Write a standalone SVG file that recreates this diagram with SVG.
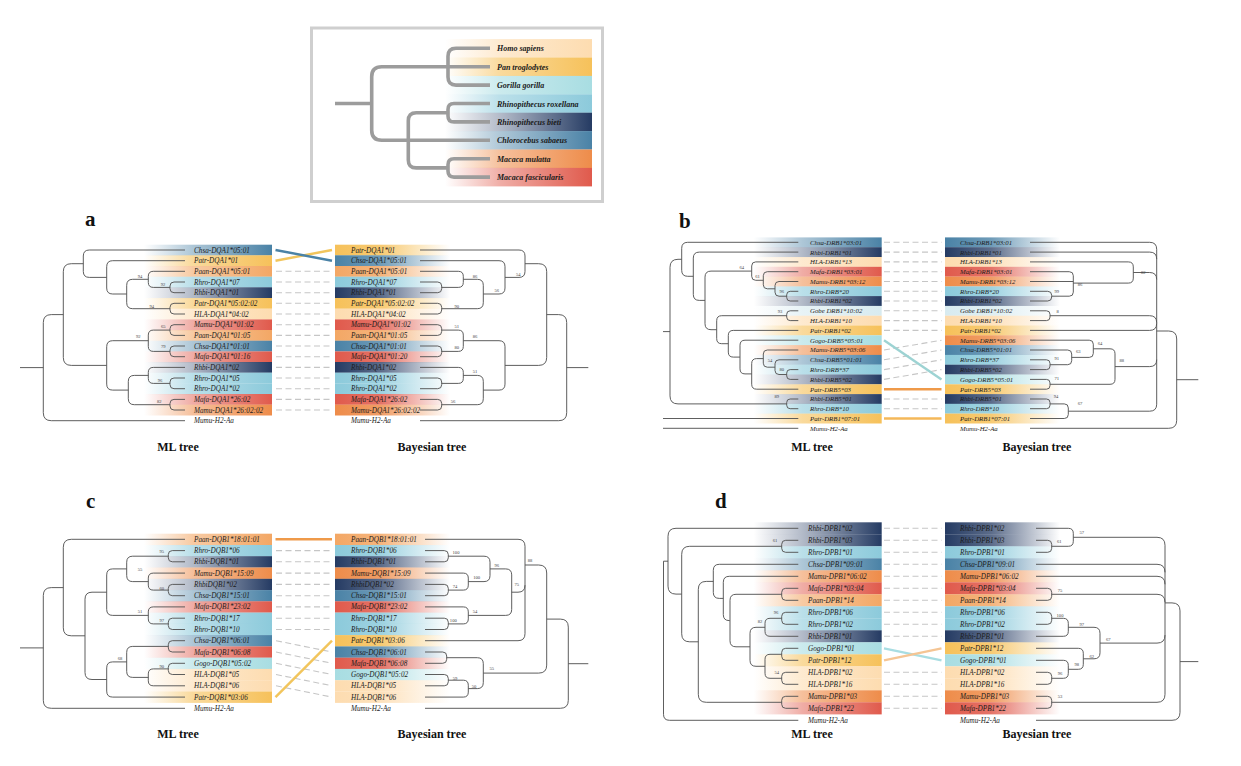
<svg xmlns="http://www.w3.org/2000/svg" width="1241" height="766" viewBox="0 0 1241 766">
<style>
.tr{fill:none;stroke:#555;stroke-width:.95}
.lt{fill:none;stroke:#9c9c9c;stroke-width:3.6}
.lb{font-family:"Liberation Serif",serif;font-style:italic;font-size:7.2px;fill:#1c1c1c}
.lb6{font-family:"Liberation Serif",serif;font-style:italic;font-size:6.8px;fill:#1c1c1c}
.bs{font-family:"Liberation Serif",serif;font-size:4.6px;fill:#444;text-anchor:middle}
.ttl{font-family:"Liberation Serif",serif;font-weight:bold;font-size:12px;fill:#111;text-anchor:middle}
.pl{font-family:"Liberation Serif",serif;font-weight:bold;font-size:21px;fill:#111}
.lg{font-family:"Liberation Serif",serif;font-style:italic;font-weight:bold;font-size:8px;fill:#1a1a1a}
.ds{fill:none;stroke:#c6c6c6;stroke-width:1.1;stroke-dasharray:6 3.5}
.sl{fill:none;stroke-width:2.4}
</style>
<defs>
<linearGradient id="L-hs"><stop offset="0" stop-color="#fddcb0" stop-opacity="0"/><stop offset=".38" stop-color="#fddcb0" stop-opacity=".6"/><stop offset="1" stop-color="#fddcb0"/></linearGradient>
<linearGradient id="L-pt"><stop offset="0" stop-color="#f6c15a" stop-opacity="0"/><stop offset=".38" stop-color="#f6c15a" stop-opacity=".6"/><stop offset="1" stop-color="#f6c15a"/></linearGradient>
<linearGradient id="L-gg"><stop offset="0" stop-color="#a8dde2" stop-opacity="0"/><stop offset=".38" stop-color="#a8dde2" stop-opacity=".6"/><stop offset="1" stop-color="#a8dde2"/></linearGradient>
<linearGradient id="L-gb"><stop offset="0" stop-color="#d8ebf0" stop-opacity="0"/><stop offset=".38" stop-color="#d8ebf0" stop-opacity=".6"/><stop offset="1" stop-color="#d8ebf0"/></linearGradient>
<linearGradient id="L-rr"><stop offset="0" stop-color="#8ccadb" stop-opacity="0"/><stop offset=".38" stop-color="#8ccadb" stop-opacity=".6"/><stop offset="1" stop-color="#8ccadb"/></linearGradient>
<linearGradient id="L-rb"><stop offset="0" stop-color="#253b63" stop-opacity="0"/><stop offset=".38" stop-color="#253b63" stop-opacity=".35"/><stop offset="1" stop-color="#253b63"/></linearGradient>
<linearGradient id="L-cs"><stop offset="0" stop-color="#4a82a6" stop-opacity="0"/><stop offset=".38" stop-color="#4a82a6" stop-opacity=".45"/><stop offset="1" stop-color="#4a82a6"/></linearGradient>
<linearGradient id="L-mm"><stop offset="0" stop-color="#ee8c4a" stop-opacity="0"/><stop offset=".38" stop-color="#ee8c4a" stop-opacity=".55"/><stop offset="1" stop-color="#ee8c4a"/></linearGradient>
<linearGradient id="L-mf"><stop offset="0" stop-color="#e05a4c" stop-opacity="0"/><stop offset=".38" stop-color="#e05a4c" stop-opacity=".5"/><stop offset="1" stop-color="#e05a4c"/></linearGradient>
<linearGradient id="L-pa"><stop offset="0" stop-color="#f3a765" stop-opacity="0"/><stop offset=".38" stop-color="#f3a765" stop-opacity=".6"/><stop offset="1" stop-color="#f3a765"/></linearGradient>
<linearGradient id="R-hs"><stop offset="0" stop-color="#fddcb0"/><stop offset=".4" stop-color="#fddcb0" stop-opacity=".85"/><stop offset="1" stop-color="#fddcb0" stop-opacity="0"/></linearGradient>
<linearGradient id="R-pt"><stop offset="0" stop-color="#f6c15a"/><stop offset=".4" stop-color="#f6c15a" stop-opacity=".85"/><stop offset="1" stop-color="#f6c15a" stop-opacity="0"/></linearGradient>
<linearGradient id="R-gg"><stop offset="0" stop-color="#a8dde2"/><stop offset=".4" stop-color="#a8dde2" stop-opacity=".85"/><stop offset="1" stop-color="#a8dde2" stop-opacity="0"/></linearGradient>
<linearGradient id="R-gb"><stop offset="0" stop-color="#d8ebf0"/><stop offset=".4" stop-color="#d8ebf0" stop-opacity=".85"/><stop offset="1" stop-color="#d8ebf0" stop-opacity="0"/></linearGradient>
<linearGradient id="R-rr"><stop offset="0" stop-color="#8ccadb"/><stop offset=".4" stop-color="#8ccadb" stop-opacity=".85"/><stop offset="1" stop-color="#8ccadb" stop-opacity="0"/></linearGradient>
<linearGradient id="R-rb"><stop offset="0" stop-color="#253b63"/><stop offset=".4" stop-color="#253b63" stop-opacity=".75"/><stop offset="1" stop-color="#253b63" stop-opacity="0"/></linearGradient>
<linearGradient id="R-cs"><stop offset="0" stop-color="#4a82a6"/><stop offset=".4" stop-color="#4a82a6" stop-opacity=".8"/><stop offset="1" stop-color="#4a82a6" stop-opacity="0"/></linearGradient>
<linearGradient id="R-mm"><stop offset="0" stop-color="#ee8c4a"/><stop offset=".4" stop-color="#ee8c4a" stop-opacity=".85"/><stop offset="1" stop-color="#ee8c4a" stop-opacity="0"/></linearGradient>
<linearGradient id="R-mf"><stop offset="0" stop-color="#e05a4c"/><stop offset=".4" stop-color="#e05a4c" stop-opacity=".85"/><stop offset="1" stop-color="#e05a4c" stop-opacity="0"/></linearGradient>
<linearGradient id="R-pa"><stop offset="0" stop-color="#f3a765"/><stop offset=".4" stop-color="#f3a765" stop-opacity=".85"/><stop offset="1" stop-color="#f3a765" stop-opacity="0"/></linearGradient>
</defs>
<rect width="1241" height="766" fill="#fff"/>

<g id="legend">
<rect x="311.5" y="28" width="291" height="173.5" fill="#fff" stroke="#cfcfcf" stroke-width="3"/>
<g id="lg-homo"><rect x="445" y="39.1" width="147" height="18.5" fill="url(#L-hs)"/><text class="lg" x="497" y="51.3">Homo sapiens</text></g>
<g id="lg-pan"><rect x="445" y="57.5" width="147" height="18.5" fill="url(#L-pt)"/><text class="lg" x="497" y="69.7">Pan troglodytes</text></g>
<g id="lg-gorilla"><rect x="445" y="75.9" width="147" height="18.5" fill="url(#L-gg)"/><text class="lg" x="497" y="88.1">Gorilla gorilla</text></g>
<g id="lg-rrox"><rect x="445" y="94.3" width="147" height="18.5" fill="url(#L-rr)"/><text class="lg" x="497" y="106.5">Rhinopithecus roxellana</text></g>
<g id="lg-rbie"><rect x="445" y="112.7" width="147" height="18.5" fill="url(#L-rb)"/><text class="lg" x="497" y="124.9">Rhinopithecus bieti</text></g>
<g id="lg-chsa"><rect x="445" y="131.1" width="147" height="18.5" fill="url(#L-cs)"/><text class="lg" x="497" y="143.3">Chlorocebus sabaeus</text></g>
<g id="lg-mamu"><rect x="445" y="149.5" width="147" height="18.5" fill="url(#L-mm)"/><text class="lg" x="497" y="161.7">Macaca mulatta</text></g>
<g id="lg-mafa"><rect x="445" y="167.9" width="147" height="18.5" fill="url(#L-mf)"/><text class="lg" x="497" y="180.1">Macaca fascicularis</text></g>
<path class="lt" d="M490,48.3H456Q448,48.3 448,56.3V77.1Q448,85.1 456,85.1H490M448,66.7H490M490,103.5H454Q448,103.5 448,109.5V115.9Q448,121.9 454,121.9H490M490,158.7H454Q448,158.7 448,164.7V171.1Q448,177.1 454,177.1H490M448,112.7H416.3Q408.3,112.7 408.3,120.7V159.9Q408.3,167.9 416.3,167.9H448M408.3,140.3H490M448,66.7H381.7Q371.7,66.7 371.7,76.7V130.3Q371.7,140.3 381.7,140.3H408.3M335,103.5H371.7"/>
</g>

<g id="panel-labels">
<text class="pl" x="85" y="226">a</text>
<text class="pl" x="679" y="228">b</text>
<text class="pl" x="86" y="508">c</text>
<text class="pl" x="715" y="508">d</text>
<text class="ttl" x="178" y="451">ML tree</text>
<text class="ttl" x="432" y="451">Bayesian tree</text>
<text class="ttl" x="812" y="451">ML tree</text>
<text class="ttl" x="1037" y="451">Bayesian tree</text>
<text class="ttl" x="178" y="738">ML tree</text>
<text class="ttl" x="432" y="738">Bayesian tree</text>
<text class="ttl" x="812" y="738">ML tree</text>
<text class="ttl" x="1037" y="738">Bayesian tree</text>
</g>

<!-- Panel a rows -->
<g id="a-ml-0"><rect x="144" y="244.7" width="128" height="10.8" fill="url(#L-cs)"/><text class="lb" x="194" y="252.5">Chsa-DQA1*05:01</text></g>
<g id="a-ml-1"><rect x="144" y="255.3" width="128" height="10.8" fill="url(#L-pt)"/><text class="lb" x="194" y="263.2">Patr-DQA1*01</text></g>
<g id="a-ml-2"><rect x="144" y="266" width="128" height="10.8" fill="url(#L-pa)"/><text class="lb" x="194" y="273.8">Paan-DQA1*05:01</text></g>
<g id="a-ml-3"><rect x="144" y="276.7" width="128" height="10.8" fill="url(#L-rr)"/><text class="lb" x="194" y="284.5">Rhro-DQA1*07</text></g>
<g id="a-ml-4"><rect x="144" y="287.3" width="128" height="10.8" fill="url(#L-rb)"/><text class="lb" x="194" y="295.2">Rhbi-DQA1*01</text></g>
<g id="a-ml-5"><rect x="144" y="298" width="128" height="10.8" fill="url(#L-pt)"/><text class="lb" x="194" y="305.8">Patr-DQA1*05:02:02</text></g>
<g id="a-ml-6"><rect x="144" y="308.7" width="128" height="10.8" fill="url(#L-hs)"/><text class="lb" x="194" y="316.5">HLA-DQA1*04:02</text></g>
<g id="a-ml-7"><rect x="144" y="319.4" width="128" height="10.8" fill="url(#L-mf)"/><text class="lb" x="194" y="327.2">Mamu-DQA1*01:02</text></g>
<g id="a-ml-8"><rect x="144" y="330" width="128" height="10.8" fill="url(#L-pa)"/><text class="lb" x="194" y="337.9">Paan-DQA1*01:05</text></g>
<g id="a-ml-9"><rect x="144" y="340.7" width="128" height="10.8" fill="url(#L-cs)"/><text class="lb" x="194" y="348.5">Chsa-DQA1*01:01</text></g>
<g id="a-ml-10"><rect x="144" y="351.4" width="128" height="10.8" fill="url(#L-mf)"/><text class="lb" x="194" y="359.2">Mafa-DQA1*01:16</text></g>
<g id="a-ml-11"><rect x="144" y="362" width="128" height="10.8" fill="url(#L-rb)"/><text class="lb" x="194" y="369.9">Rhbi-DQA1*02</text></g>
<g id="a-ml-12"><rect x="144" y="372.7" width="128" height="10.8" fill="url(#L-rr)"/><text class="lb" x="194" y="380.5">Rhro-DQA1*05</text></g>
<g id="a-ml-13"><rect x="144" y="383.4" width="128" height="10.8" fill="url(#L-rr)"/><text class="lb" x="194" y="391.2">Rhro-DQA1*02</text></g>
<g id="a-ml-14"><rect x="144" y="394" width="128" height="10.8" fill="url(#L-mf)"/><text class="lb" x="194" y="401.9">Mafa-DQA1*26:02</text></g>
<g id="a-ml-15"><rect x="144" y="404.7" width="128" height="10.8" fill="url(#L-mm)"/><text class="lb" x="194" y="412.5">Mamu-DQA1*26:02:02</text></g>
<g id="a-ml-16"><text class="lb" x="194" y="423.2">Mumu-H2-Aa</text></g>

<g id="a-by-0"><rect x="335" y="244.7" width="115" height="10.8" fill="url(#R-pt)"/><text class="lb" x="351" y="252.5">Patr-DQA1*01</text></g>
<g id="a-by-1"><rect x="335" y="255.3" width="115" height="10.8" fill="url(#R-cs)"/><text class="lb" x="351" y="263.2">Chsa-DQA1*05:01</text></g>
<g id="a-by-2"><rect x="335" y="266" width="115" height="10.8" fill="url(#R-pa)"/><text class="lb" x="351" y="273.8">Paan-DQA1*05:01</text></g>
<g id="a-by-3"><rect x="335" y="276.7" width="115" height="10.8" fill="url(#R-rr)"/><text class="lb" x="351" y="284.5">Rhro-DQA1*07</text></g>
<g id="a-by-4"><rect x="335" y="287.3" width="115" height="10.8" fill="url(#R-rb)"/><text class="lb" x="351" y="295.2">Rhbi-DQA1*01</text></g>
<g id="a-by-5"><rect x="335" y="298" width="115" height="10.8" fill="url(#R-pt)"/><text class="lb" x="351" y="305.8">Patr-DQA1*05:02:02</text></g>
<g id="a-by-6"><rect x="335" y="308.7" width="115" height="10.8" fill="url(#R-hs)"/><text class="lb" x="351" y="316.5">HLA-DQA1*04:02</text></g>
<g id="a-by-7"><rect x="335" y="319.4" width="115" height="10.8" fill="url(#R-mf)"/><text class="lb" x="351" y="327.2">Mamu-DQA1*01:02</text></g>
<g id="a-by-8"><rect x="335" y="330" width="115" height="10.8" fill="url(#R-pa)"/><text class="lb" x="351" y="337.9">Paan-DQA1*01:05</text></g>
<g id="a-by-9"><rect x="335" y="340.7" width="115" height="10.8" fill="url(#R-cs)"/><text class="lb" x="351" y="348.5">Chsa-DQA1*01:01</text></g>
<g id="a-by-10"><rect x="335" y="351.4" width="115" height="10.8" fill="url(#R-mf)"/><text class="lb" x="351" y="359.2">Mafa-DQA1*01:20</text></g>
<g id="a-by-11"><rect x="335" y="362" width="115" height="10.8" fill="url(#R-rb)"/><text class="lb" x="351" y="369.9">Rhbi-DQA1*02</text></g>
<g id="a-by-12"><rect x="335" y="372.7" width="115" height="10.8" fill="url(#R-rr)"/><text class="lb" x="351" y="380.5">Rhro-DQA1*05</text></g>
<g id="a-by-13"><rect x="335" y="383.4" width="115" height="10.8" fill="url(#R-rr)"/><text class="lb" x="351" y="391.2">Rhro-DQA1*02</text></g>
<g id="a-by-14"><rect x="335" y="394" width="115" height="10.8" fill="url(#R-mf)"/><text class="lb" x="351" y="401.9">Mafa-DQA1*26:02</text></g>
<g id="a-by-15"><rect x="335" y="404.7" width="115" height="10.8" fill="url(#R-mm)"/><text class="lb" x="351" y="412.5">Mamu-DQA1*26:02:02</text></g>
<g id="a-by-16"><text class="lb" x="351" y="423.2">Mumu-H2-Aa</text></g>

<!-- Panel b rows -->
<g id="b-ml-0"><rect x="753.7" y="237.4" width="128" height="9.9" fill="url(#L-cs)"/><text class="lb6" x="810" y="244.7">Chsa-DRB1*03:01</text></g>
<g id="b-ml-1"><rect x="753.7" y="247.2" width="128" height="9.9" fill="url(#L-rb)"/><text class="lb6" x="810" y="254.5">Rhbi-DRB1*01</text></g>
<g id="b-ml-2"><rect x="753.7" y="257" width="128" height="9.9" fill="url(#L-hs)"/><text class="lb6" x="810" y="264.3">HLA-DRB1*13</text></g>
<g id="b-ml-3"><rect x="753.7" y="266.8" width="128" height="9.9" fill="url(#L-mf)"/><text class="lb6" x="810" y="274.1">Mafa-DRB1*03:01</text></g>
<g id="b-ml-4"><rect x="753.7" y="276.6" width="128" height="9.9" fill="url(#L-mm)"/><text class="lb6" x="810" y="283.9">Mamu-DRB1*03:12</text></g>
<g id="b-ml-5"><rect x="753.7" y="286.4" width="128" height="9.9" fill="url(#L-rr)"/><text class="lb6" x="810" y="293.7">Rhro-DRB*20</text></g>
<g id="b-ml-6"><rect x="753.7" y="296.1" width="128" height="9.9" fill="url(#L-rb)"/><text class="lb6" x="810" y="303.4">Rhbi-DRB1*02</text></g>
<g id="b-ml-7"><rect x="753.7" y="305.9" width="128" height="9.9" fill="url(#L-gb)"/><text class="lb6" x="810" y="313.2">Gobe DRB1*10:02</text></g>
<g id="b-ml-8"><rect x="753.7" y="315.7" width="128" height="9.9" fill="url(#L-hs)"/><text class="lb6" x="810" y="323">HLA-DRB1*10</text></g>
<g id="b-ml-9"><rect x="753.7" y="325.5" width="128" height="9.9" fill="url(#L-pt)"/><text class="lb6" x="810" y="332.8">Patr-DRB1*02</text></g>
<g id="b-ml-10"><rect x="753.7" y="335.3" width="128" height="9.9" fill="url(#L-gg)"/><text class="lb6" x="810" y="342.6">Gogo-DRB5*05:01</text></g>
<g id="b-ml-11"><rect x="753.7" y="345.1" width="128" height="9.9" fill="url(#L-mm)"/><text class="lb6" x="810" y="352.4">Mamu-DRB5*03:06</text></g>
<g id="b-ml-12"><rect x="753.7" y="354.9" width="128" height="9.9" fill="url(#L-cs)"/><text class="lb6" x="810" y="362.2">Chsa-DRB5*01:01</text></g>
<g id="b-ml-13"><rect x="753.7" y="364.7" width="128" height="9.9" fill="url(#L-rr)"/><text class="lb6" x="810" y="372">Rhro-DRB*37</text></g>
<g id="b-ml-14"><rect x="753.7" y="374.5" width="128" height="9.9" fill="url(#L-rb)"/><text class="lb6" x="810" y="381.8">Rhbi-DRB5*02</text></g>
<g id="b-ml-15"><rect x="753.7" y="384.3" width="128" height="9.9" fill="url(#L-pt)"/><text class="lb6" x="810" y="391.6">Patr-DRB5*03</text></g>
<g id="b-ml-16"><rect x="753.7" y="394.1" width="128" height="9.9" fill="url(#L-rb)"/><text class="lb6" x="810" y="401.4">Rhbi-DRB5*01</text></g>
<g id="b-ml-17"><rect x="753.7" y="403.8" width="128" height="9.9" fill="url(#L-rr)"/><text class="lb6" x="810" y="411.1">Rhro-DRB*10</text></g>
<g id="b-ml-18"><rect x="753.7" y="413.6" width="128" height="9.9" fill="url(#L-pt)"/><text class="lb6" x="810" y="420.9">Patr-DRB1*07:01</text></g>
<g id="b-ml-19"><text class="lb6" x="810" y="430.7">Mumu-H2-Aa</text></g>

<g id="b-by-0"><rect x="945" y="237.4" width="115" height="9.9" fill="url(#R-cs)"/><text class="lb6" x="960" y="244.7">Chsa-DRB1*03:01</text></g>
<g id="b-by-1"><rect x="945" y="247.2" width="115" height="9.9" fill="url(#R-rb)"/><text class="lb6" x="960" y="254.5">Rhbi-DRB1*01</text></g>
<g id="b-by-2"><rect x="945" y="257" width="115" height="9.9" fill="url(#R-hs)"/><text class="lb6" x="960" y="264.3">HLA-DRB1*13</text></g>
<g id="b-by-3"><rect x="945" y="266.8" width="115" height="9.9" fill="url(#R-mf)"/><text class="lb6" x="960" y="274.1">Mafa-DRB1*03:01</text></g>
<g id="b-by-4"><rect x="945" y="276.6" width="115" height="9.9" fill="url(#R-mm)"/><text class="lb6" x="960" y="283.9">Mamu-DRB1*03:12</text></g>
<g id="b-by-5"><rect x="945" y="286.4" width="115" height="9.9" fill="url(#R-rr)"/><text class="lb6" x="960" y="293.7">Rhro-DRB*20</text></g>
<g id="b-by-6"><rect x="945" y="296.1" width="115" height="9.9" fill="url(#R-rb)"/><text class="lb6" x="960" y="303.4">Rhbi-DRB1*02</text></g>
<g id="b-by-7"><rect x="945" y="305.9" width="115" height="9.9" fill="url(#R-gb)"/><text class="lb6" x="960" y="313.2">Gobe DRB1*10:02</text></g>
<g id="b-by-8"><rect x="945" y="315.7" width="115" height="9.9" fill="url(#R-hs)"/><text class="lb6" x="960" y="323">HLA-DRB1*10</text></g>
<g id="b-by-9"><rect x="945" y="325.5" width="115" height="9.9" fill="url(#R-pt)"/><text class="lb6" x="960" y="332.8">Patr-DRB1*02</text></g>
<g id="b-by-10"><rect x="945" y="335.3" width="115" height="9.9" fill="url(#R-mm)"/><text class="lb6" x="960" y="342.6">Mamu-DRB5*03:06</text></g>
<g id="b-by-11"><rect x="945" y="345.1" width="115" height="9.9" fill="url(#R-cs)"/><text class="lb6" x="960" y="352.4">Chsa-DRB5*01:01</text></g>
<g id="b-by-12"><rect x="945" y="354.9" width="115" height="9.9" fill="url(#R-rr)"/><text class="lb6" x="960" y="362.2">Rhro-DRB*37</text></g>
<g id="b-by-13"><rect x="945" y="364.7" width="115" height="9.9" fill="url(#R-rb)"/><text class="lb6" x="960" y="372">Rhbi-DRB5*02</text></g>
<g id="b-by-14"><rect x="945" y="374.5" width="115" height="9.9" fill="url(#R-gg)"/><text class="lb6" x="960" y="381.8">Gogo-DRB5*05:01</text></g>
<g id="b-by-15"><rect x="945" y="384.3" width="115" height="9.9" fill="url(#R-pt)"/><text class="lb6" x="960" y="391.6">Patr-DRB5*03</text></g>
<g id="b-by-16"><rect x="945" y="394.1" width="115" height="9.9" fill="url(#R-rb)"/><text class="lb6" x="960" y="401.4">Rhbi-DRB5*01</text></g>
<g id="b-by-17"><rect x="945" y="403.8" width="115" height="9.9" fill="url(#R-rr)"/><text class="lb6" x="960" y="411.1">Rhro-DRB*10</text></g>
<g id="b-by-18"><rect x="945" y="413.6" width="115" height="9.9" fill="url(#R-pt)"/><text class="lb6" x="960" y="420.9">Patr-DRB1*07:01</text></g>
<g id="b-by-19"><text class="lb6" x="960" y="430.7">Mumu-H2-Aa</text></g>

<!-- Panel c rows -->
<g id="c-ml-0"><rect x="144" y="533.7" width="128" height="11.4" fill="url(#L-pa)"/><text class="lb" x="194" y="541.8">Paan-DQB1*18:01:01</text></g>
<g id="c-ml-1"><rect x="144" y="545" width="128" height="11.4" fill="url(#L-rr)"/><text class="lb" x="194" y="553.1">Rhro-DQB1*06</text></g>
<g id="c-ml-2"><rect x="144" y="556.2" width="128" height="11.4" fill="url(#L-rb)"/><text class="lb" x="194" y="564.3">Rhbi-DQB1*01</text></g>
<g id="c-ml-3"><rect x="144" y="567.5" width="128" height="11.4" fill="url(#L-mm)"/><text class="lb" x="194" y="575.6">Mamu-DQB1*15:09</text></g>
<g id="c-ml-4"><rect x="144" y="578.8" width="128" height="11.4" fill="url(#L-rb)"/><text class="lb" x="194" y="586.9">RhbiDQB1*02</text></g>
<g id="c-ml-5"><rect x="144" y="590.1" width="128" height="11.4" fill="url(#L-cs)"/><text class="lb" x="194" y="598.2">Chsa-DQB1*15:01</text></g>
<g id="c-ml-6"><rect x="144" y="601.3" width="128" height="11.4" fill="url(#L-mf)"/><text class="lb" x="194" y="609.4">Mafa-DQB1*23:02</text></g>
<g id="c-ml-7"><rect x="144" y="612.6" width="128" height="11.4" fill="url(#L-rr)"/><text class="lb" x="194" y="620.7">Rhro-DQB1*17</text></g>
<g id="c-ml-8"><rect x="144" y="623.9" width="128" height="11.4" fill="url(#L-rr)"/><text class="lb" x="194" y="632">Rhro-DQB1*10</text></g>
<g id="c-ml-9"><rect x="144" y="635.1" width="128" height="11.4" fill="url(#L-cs)"/><text class="lb" x="194" y="643.2">Chsa-DQB1*06:01</text></g>
<g id="c-ml-10"><rect x="144" y="646.4" width="128" height="11.4" fill="url(#L-mf)"/><text class="lb" x="194" y="654.5">Mafa-DQB1*06:08</text></g>
<g id="c-ml-11"><rect x="144" y="657.7" width="128" height="11.4" fill="url(#L-gg)"/><text class="lb" x="194" y="665.8">Gogo-DQB1*05:02</text></g>
<g id="c-ml-12"><rect x="144" y="668.9" width="128" height="11.4" fill="url(#L-hs)"/><text class="lb" x="194" y="677">HLA-DQB1*05</text></g>
<g id="c-ml-13"><rect x="144" y="680.2" width="128" height="11.4" fill="url(#L-hs)"/><text class="lb" x="194" y="688.3">HLA-DQB1*06</text></g>
<g id="c-ml-14"><rect x="144" y="691.5" width="128" height="11.4" fill="url(#L-pt)"/><text class="lb" x="194" y="699.6">Patr-DQB1*03:06</text></g>
<g id="c-ml-15"><text class="lb" x="194" y="710.8">Mumu-H2-Aa</text></g>

<g id="c-by-0"><rect x="335" y="533.7" width="115" height="11.4" fill="url(#R-pa)"/><text class="lb" x="351" y="541.8">Paan-DQB1*18:01:01</text></g>
<g id="c-by-1"><rect x="335" y="545" width="115" height="11.4" fill="url(#R-rr)"/><text class="lb" x="351" y="553.1">Rhro-DQB1*06</text></g>
<g id="c-by-2"><rect x="335" y="556.2" width="115" height="11.4" fill="url(#R-rb)"/><text class="lb" x="351" y="564.3">Rhbi-DQB1*01</text></g>
<g id="c-by-3"><rect x="335" y="567.5" width="115" height="11.4" fill="url(#R-mm)"/><text class="lb" x="351" y="575.6">Mamu-DQB1*15:09</text></g>
<g id="c-by-4"><rect x="335" y="578.8" width="115" height="11.4" fill="url(#R-rb)"/><text class="lb" x="351" y="586.9">RhbiDQB1*02</text></g>
<g id="c-by-5"><rect x="335" y="590.1" width="115" height="11.4" fill="url(#R-cs)"/><text class="lb" x="351" y="598.2">Chsa-DQB1*15:01</text></g>
<g id="c-by-6"><rect x="335" y="601.3" width="115" height="11.4" fill="url(#R-mf)"/><text class="lb" x="351" y="609.4">Mafa-DQB1*23:02</text></g>
<g id="c-by-7"><rect x="335" y="612.6" width="115" height="11.4" fill="url(#R-rr)"/><text class="lb" x="351" y="620.7">Rhro-DQB1*17</text></g>
<g id="c-by-8"><rect x="335" y="623.9" width="115" height="11.4" fill="url(#R-rr)"/><text class="lb" x="351" y="632">Rhro-DQB1*10</text></g>
<g id="c-by-9"><rect x="335" y="635.1" width="115" height="11.4" fill="url(#R-pt)"/><text class="lb" x="351" y="643.2">Patr-DQB1*03:06</text></g>
<g id="c-by-10"><rect x="335" y="646.4" width="115" height="11.4" fill="url(#R-cs)"/><text class="lb" x="351" y="654.5">Chsa-DQB1*06:01</text></g>
<g id="c-by-11"><rect x="335" y="657.7" width="115" height="11.4" fill="url(#R-mf)"/><text class="lb" x="351" y="665.8">Mafa-DQB1*06:08</text></g>
<g id="c-by-12"><rect x="335" y="668.9" width="115" height="11.4" fill="url(#R-gg)"/><text class="lb" x="351" y="677">Gogo-DQB1*05:02</text></g>
<g id="c-by-13"><rect x="335" y="680.2" width="115" height="11.4" fill="url(#R-hs)"/><text class="lb" x="351" y="688.3">HLA-DQB1*05</text></g>
<g id="c-by-14"><rect x="335" y="691.5" width="115" height="11.4" fill="url(#R-hs)"/><text class="lb" x="351" y="699.6">HLA-DQB1*06</text></g>
<g id="c-by-15"><text class="lb" x="351" y="710.8">Mumu-H2-Aa</text></g>

<!-- Panel d rows -->
<g id="d-ml-0"><rect x="753.7" y="522.3" width="128" height="12.1" fill="url(#L-rb)"/><text class="lb" x="808" y="530.8">Rhbi-DPB1*02</text></g>
<g id="d-ml-1"><rect x="753.7" y="534.3" width="128" height="12.1" fill="url(#L-rb)"/><text class="lb" x="808" y="542.8">Rhbi-DPB1*03</text></g>
<g id="d-ml-2"><rect x="753.7" y="546.3" width="128" height="12.1" fill="url(#L-rr)"/><text class="lb" x="808" y="554.8">Rhro-DPB1*01</text></g>
<g id="d-ml-3"><rect x="753.7" y="558.3" width="128" height="12.1" fill="url(#L-cs)"/><text class="lb" x="808" y="566.8">Chsa-DPB1*09:01</text></g>
<g id="d-ml-4"><rect x="753.7" y="570.3" width="128" height="12.1" fill="url(#L-mm)"/><text class="lb" x="808" y="578.8">Mamu-DPB1*06:02</text></g>
<g id="d-ml-5"><rect x="753.7" y="582.3" width="128" height="12.1" fill="url(#L-mf)"/><text class="lb" x="808" y="590.8">Mafa-DPB1*03:04</text></g>
<g id="d-ml-6"><rect x="753.7" y="594.3" width="128" height="12.1" fill="url(#L-pa)"/><text class="lb" x="808" y="602.8">Paan-DPB1*14</text></g>
<g id="d-ml-7"><rect x="753.7" y="606.3" width="128" height="12.1" fill="url(#L-rr)"/><text class="lb" x="808" y="614.8">Rhro-DPB1*06</text></g>
<g id="d-ml-8"><rect x="753.7" y="618.3" width="128" height="12.1" fill="url(#L-rr)"/><text class="lb" x="808" y="626.8">Rhro-DPB1*02</text></g>
<g id="d-ml-9"><rect x="753.7" y="630.3" width="128" height="12.1" fill="url(#L-rb)"/><text class="lb" x="808" y="638.8">Rhbi-DPB1*01</text></g>
<g id="d-ml-10"><rect x="753.7" y="642.3" width="128" height="12.1" fill="url(#L-gg)"/><text class="lb" x="808" y="650.8">Gogo-DPB1*01</text></g>
<g id="d-ml-11"><rect x="753.7" y="654.3" width="128" height="12.1" fill="url(#L-pt)"/><text class="lb" x="808" y="662.8">Patr-DPB1*12</text></g>
<g id="d-ml-12"><rect x="753.7" y="666.3" width="128" height="12.1" fill="url(#L-hs)"/><text class="lb" x="808" y="674.8">HLA-DPB1*02</text></g>
<g id="d-ml-13"><rect x="753.7" y="678.3" width="128" height="12.1" fill="url(#L-hs)"/><text class="lb" x="808" y="686.8">HLA-DPB1*16</text></g>
<g id="d-ml-14"><rect x="753.7" y="690.3" width="128" height="12.1" fill="url(#L-mm)"/><text class="lb" x="808" y="698.8">Mamu-DPB1*03</text></g>
<g id="d-ml-15"><rect x="753.7" y="702.3" width="128" height="12.1" fill="url(#L-mf)"/><text class="lb" x="808" y="710.8">Mafa-DPB1*22</text></g>
<g id="d-ml-16"><text class="lb" x="808" y="722.8">Mumu-H2-Aa</text></g>

<g id="d-by-0"><rect x="945" y="522.3" width="115" height="12.1" fill="url(#R-rb)"/><text class="lb" x="960" y="530.8">Rhbi-DPB1*02</text></g>
<g id="d-by-1"><rect x="945" y="534.3" width="115" height="12.1" fill="url(#R-rb)"/><text class="lb" x="960" y="542.8">Rhbi-DPB1*03</text></g>
<g id="d-by-2"><rect x="945" y="546.3" width="115" height="12.1" fill="url(#R-rr)"/><text class="lb" x="960" y="554.8">Rhro-DPB1*01</text></g>
<g id="d-by-3"><rect x="945" y="558.3" width="115" height="12.1" fill="url(#R-cs)"/><text class="lb" x="960" y="566.8">Chsa-DPB1*09:01</text></g>
<g id="d-by-4"><rect x="945" y="570.3" width="115" height="12.1" fill="url(#R-mm)"/><text class="lb" x="960" y="578.8">Mamu-DPB1*06:02</text></g>
<g id="d-by-5"><rect x="945" y="582.3" width="115" height="12.1" fill="url(#R-mf)"/><text class="lb" x="960" y="590.8">Mafa-DPB1*03:04</text></g>
<g id="d-by-6"><rect x="945" y="594.3" width="115" height="12.1" fill="url(#R-pa)"/><text class="lb" x="960" y="602.8">Paan-DPB1*14</text></g>
<g id="d-by-7"><rect x="945" y="606.3" width="115" height="12.1" fill="url(#R-rr)"/><text class="lb" x="960" y="614.8">Rhro-DPB1*06</text></g>
<g id="d-by-8"><rect x="945" y="618.3" width="115" height="12.1" fill="url(#R-rr)"/><text class="lb" x="960" y="626.8">Rhro-DPB1*02</text></g>
<g id="d-by-9"><rect x="945" y="630.3" width="115" height="12.1" fill="url(#R-rb)"/><text class="lb" x="960" y="638.8">Rhbi-DPB1*01</text></g>
<g id="d-by-10"><rect x="945" y="642.3" width="115" height="12.1" fill="url(#R-pt)"/><text class="lb" x="960" y="650.8">Patr-DPB1*12</text></g>
<g id="d-by-11"><rect x="945" y="654.3" width="115" height="12.1" fill="url(#R-gg)"/><text class="lb" x="960" y="662.8">Gogo-DPB1*01</text></g>
<g id="d-by-12"><rect x="945" y="666.3" width="115" height="12.1" fill="url(#R-hs)"/><text class="lb" x="960" y="674.8">HLA-DPB1*02</text></g>
<g id="d-by-13"><rect x="945" y="678.3" width="115" height="12.1" fill="url(#R-hs)"/><text class="lb" x="960" y="686.8">HLA-DPB1*16</text></g>
<g id="d-by-14"><rect x="945" y="690.3" width="115" height="12.1" fill="url(#R-mm)"/><text class="lb" x="960" y="698.8">Mamu-DPB1*03</text></g>
<g id="d-by-15"><rect x="945" y="702.3" width="115" height="12.1" fill="url(#R-mf)"/><text class="lb" x="960" y="710.8">Mafa-DPB1*22</text></g>
<g id="d-by-16"><text class="lb" x="960" y="722.8">Mumu-H2-Aa</text></g>

<g id="connectors">
<g id="a-tree-ml">
<path class="tr" d="M185,282H174Q170,282 170,286V288.7Q170,292.7 174,292.7H185M185,271.3H153.3Q148.3,271.3 148.3,276.3V282.4Q148.3,287.4 153.3,287.4H170M185,303.3H174Q170,303.3 170,307.3V310Q170,314 174,314H185M148.3,279.3H132.7Q126.7,279.3 126.7,285.3V302.7Q126.7,308.7 132.7,308.7H170M185,260.7H112.7Q106.7,260.7 106.7,266.7V288Q106.7,294 112.7,294H126.7M185,250H89.3Q83.3,250 83.3,256V271.4Q83.3,277.4 89.3,277.4H106.7M185,324.7H174Q170,324.7 170,328.7V331.4Q170,335.4 174,335.4H185M185,346H174Q170,346 170,350V352.7Q170,356.7 174,356.7H185M170,330.1H153.3Q148.3,330.1 148.3,335.1V346.4Q148.3,351.4 153.3,351.4H170M185,378H174Q170,378 170,382V384.7Q170,388.7 174,388.7H185M185,367.4H153.3Q148.3,367.4 148.3,372.4V378.4Q148.3,383.4 153.3,383.4H170M185,399.4H174Q170,399.4 170,403.4V406Q170,410 174,410H185M148.3,375.4H134.3Q128.3,375.4 128.3,381.4V398.7Q128.3,404.7 134.3,404.7H170M148.3,340.7H112.7Q106.7,340.7 106.7,346.7V384.1Q106.7,390.1 112.7,390.1H128.3M83.3,263.7H71.3Q63.3,263.7 63.3,271.7V357.4Q63.3,365.4 71.3,365.4H106.7M63.3,314.6H51.3Q43.3,314.6 43.3,322.6V412.7Q43.3,420.7 51.3,420.7H185M20,367.6H43.3"/>
<text class="bs" x="140" y="278.2">94</text><text class="bs" x="163" y="285.8">92</text><text class="bs" x="151.7" y="307.5">94</text><text class="bs" x="163.3" y="327.8">65</text><text class="bs" x="138.3" y="338.3">92</text><text class="bs" x="163.3" y="348.3">79</text><text class="bs" x="160" y="381.7">96</text><text class="bs" x="159.3" y="402.7">82</text>
</g>
<g id="a-tree-by">
<path class="tr" d="M420,282H437.7Q441.7,282 441.7,286V288.7Q441.7,292.7 437.7,292.7H420M420,271.3H458.3Q463.3,271.3 463.3,276.3V282.4Q463.3,287.4 458.3,287.4H441.7M420,303.3H437.7Q441.7,303.3 441.7,307.3V310Q441.7,314 437.7,314H420M463.3,279.3H477.3Q483.3,279.3 483.3,285.3V302.7Q483.3,308.7 477.3,308.7H441.7M420,260.7H499Q505,260.7 505,266.7V288Q505,294 499,294H483.3M420,250H519Q525,250 525,256V271.4Q525,277.4 519,277.4H505M420,324.7H437.7Q441.7,324.7 441.7,328.7V331.4Q441.7,335.4 437.7,335.4H420M420,346H437.7Q441.7,346 441.7,350V352.7Q441.7,356.7 437.7,356.7H420M441.7,330.1H458.3Q463.3,330.1 463.3,335.1V346.4Q463.3,351.4 458.3,351.4H441.7M420,378H437.7Q441.7,378 441.7,382V384.7Q441.7,388.7 437.7,388.7H420M420,367.4H458.3Q463.3,367.4 463.3,372.4V378.4Q463.3,383.4 458.3,383.4H441.7M420,399.4H437.7Q441.7,399.4 441.7,403.4V406Q441.7,410 437.7,410H420M463.3,375.4H477.3Q483.3,375.4 483.3,381.4V398.7Q483.3,404.7 477.3,404.7H441.7M463.3,340.7H499Q505,340.7 505,346.7V384.1Q505,390.1 499,390.1H483.3M525,263.7H538.7Q546.7,263.7 546.7,271.7V357.4Q546.7,365.4 538.7,365.4H505M546.7,314.6H558.7Q566.7,314.6 566.7,322.6V412.7Q566.7,420.7 558.7,420.7H420M566.7,367.6H588.3"/>
<text class="bs" x="518.3" y="275.8">54</text><text class="bs" x="496.7" y="291.8">56</text><text class="bs" x="475" y="277.8">86</text><text class="bs" x="456.7" y="307.8">90</text><text class="bs" x="456.7" y="328.3">51</text><text class="bs" x="456.7" y="348.8">80</text><text class="bs" x="475" y="338.3">86</text><text class="bs" x="475" y="373.3">51</text><text class="bs" x="453" y="403.2">56</text>
</g>
<g id="a-links">
<path class="ds" d="M276,271.3H332M276,282H332M276,292.7H332M276,303.3H332M276,314H332M276,324.7H332M276,335.4H332M276,346H332M276,356.7H332M276,367.4H332M276,378H332M276,388.7H332M276,399.4H332M276,410H332"/>
<path class="sl" stroke="#f2c55c" d="M275.5,260.7L332,250"/>
<path class="sl" stroke="#4a82a6" d="M275.5,250L332,260.7"/>
</g>

<g id="b-tree-ml">
<path class="tr" d="M798.3,291.3H790.2Q786.7,291.3 786.7,294.8V297.5Q786.7,301 790.2,301H798.3M798.3,281.5H779Q775,281.5 775,285.5V292.2Q775,296.2 779,296.2H786.7M798.3,271.7H767.3Q763.3,271.7 763.3,275.7V284.8Q763.3,288.8 767.3,288.8H775M798.3,261.9H755.7Q751.7,261.9 751.7,265.9V276.3Q751.7,280.3 755.7,280.3H763.3M798.3,310.8H790.2Q786.7,310.8 786.7,314.3V317.1Q786.7,320.6 790.2,320.6H798.3M798.3,369.6H790.2Q786.7,369.6 786.7,373.1V375.9Q786.7,379.4 790.2,379.4H798.3M798.3,359.8H779Q775,359.8 775,363.8V370.5Q775,374.5 779,374.5H786.7M798.3,350H767.3Q763.3,350 763.3,354V363.2Q763.3,367.2 767.3,367.2H775M763.3,358.6H756.7Q751.7,358.6 751.7,363.6V384.2Q751.7,389.2 756.7,389.2H798.3M798.3,340.2H745Q740,340.2 740,345.2V368.9Q740,373.9 745,373.9H751.7M798.3,330.4H733.3Q728.3,330.4 728.3,335.4V352.1Q728.3,357.1 733.3,357.1H740M786.7,315.7H721.7Q716.7,315.7 716.7,320.7V338.7Q716.7,343.7 721.7,343.7H728.3M751.7,271.1H711Q705,271.1 705,277.1V323.7Q705,329.7 711,329.7H716.7M798.3,252.1H699.3Q693.3,252.1 693.3,258.1V294.4Q693.3,300.4 699.3,300.4H705M798.3,242.3H687.7Q681.7,242.3 681.7,248.3V270.3Q681.7,276.3 687.7,276.3H693.3M798.3,399H790.2Q786.7,399 786.7,402.5V405.2Q786.7,408.7 790.2,408.7H798.3M681.7,259.3H678Q670,259.3 670,267.3V395.9Q670,403.9 678,403.9H786.7M663,331.6H670M663,418.5H798.3M663,428.3H798.3"/>
<text class="bs" x="741.7" y="268.5">64</text><text class="bs" x="757.5" y="278.3">61</text><text class="bs" x="781.7" y="293.3">96</text><text class="bs" x="780" y="312.8">93</text><text class="bs" x="770" y="362">54</text><text class="bs" x="781.7" y="371">80</text><text class="bs" x="776.7" y="397.8">89</text>
</g>
<g id="b-tree-by">
<path class="tr" d="M1030,291.3H1047.7Q1051.7,291.3 1051.7,295.3V297Q1051.7,301 1047.7,301H1030M1030,271.7H1069.3Q1073.3,271.7 1073.3,275.7V292.2Q1073.3,296.2 1069.3,296.2H1051.7M1030,281.5H1073.3M1030,261.9H1128.3Q1133.3,261.9 1133.3,266.9V278.1Q1133.3,283.1 1128.3,283.1H1073.3M1030,310.8H1046.5Q1050,310.8 1050,314.3V317.1Q1050,320.6 1046.5,320.6H1030M1030,359.8H1046.5Q1050,359.8 1050,363.3V366.1Q1050,369.6 1046.5,369.6H1030M1030,350H1067.7Q1071.7,350 1071.7,354V360.7Q1071.7,364.7 1067.7,364.7H1050M1030,340.2H1089.3Q1093.3,340.2 1093.3,344.2V353.4Q1093.3,357.4 1089.3,357.4H1071.7M1030,379.4H1046.5Q1050,379.4 1050,382.9V385.7Q1050,389.2 1046.5,389.2H1030M1093.3,348.8H1110Q1115,348.8 1115,353.8V379.3Q1115,384.3 1110,384.3H1050M1030,399H1046.5Q1050,399 1050,402.5V405.2Q1050,408.7 1046.5,408.7H1030M1050,403.9H1064.3Q1068.3,403.9 1068.3,407.9V414.5Q1068.3,418.5 1064.3,418.5H1030M1030,242.3H1149.7Q1156.7,242.3 1156.7,249.3V404.2Q1156.7,411.2 1149.7,411.2H1068.3M1030,252.1H1149.7Q1156.7,252.1 1156.7,259.1M1133.3,272.5H1149.7Q1156.7,272.5 1156.7,279.5M1050,315.7H1149.7Q1156.7,315.7 1156.7,322.7M1030,330.4H1149.7Q1156.7,330.4 1156.7,323.4M1115,366.6H1149.7Q1156.7,366.6 1156.7,359.6M1156.7,331H1168.7Q1176.7,331 1176.7,339V420.3Q1176.7,428.3 1168.7,428.3H1030M1176.7,379.7H1198.3"/>
<text class="bs" x="1056.7" y="293.3">99</text><text class="bs" x="1080" y="286">86</text><text class="bs" x="1143.3" y="274.3">82</text><text class="bs" x="1057.7" y="312.8">8</text><text class="bs" x="1056.7" y="360">91</text><text class="bs" x="1078.3" y="352.8">63</text><text class="bs" x="1100" y="345.3">64</text><text class="bs" x="1056.7" y="380">71</text><text class="bs" x="1121.7" y="361.7">88</text><text class="bs" x="1056" y="397.5">94</text><text class="bs" x="1080" y="405.3">67</text>
</g>
<g id="b-links">
<path class="ds" d="M884,242.3H941.5M884,252.1H941.5M884,261.9H941.5M884,271.7H941.5M884,281.5H941.5M884,291.3H941.5M884,301H941.5M884,310.8H941.5M884,320.6H941.5M884,330.4H941.5M884,350L941.5,340.2M884,359.8L941.5,350M884,369.6L941.5,359.8M884,379.4L941.5,369.6M884,399H941.5M884,408.7H941.5"/>
<path class="sl" stroke="#9dd3d3" d="M884,340.2L941.5,379.4"/>
<path class="sl" stroke="#ef9a4a" d="M884,389.2H941.5"/>
<path class="sl" stroke="#f4b85a" d="M884,418.5H941.5"/>
</g>

<g id="c-tree-ml">
<path class="tr" d="M185,550.6H172.3Q168.3,550.6 168.3,554.6V557.8Q168.3,561.8 172.3,561.8H185M185,584.4H172.3Q168.3,584.4 168.3,588.4V591.7Q168.3,595.7 172.3,595.7H185M185,573.1H153.3Q148.3,573.1 148.3,578.1V585.1Q148.3,590.1 153.3,590.1H168.3M168.3,556.2H132.7Q126.7,556.2 126.7,562.2V575.6Q126.7,581.6 132.7,581.6H148.3M185,618.2H172.3Q168.3,618.2 168.3,622.2V625.5Q168.3,629.5 172.3,629.5H185M185,606.9H153.3Q148.3,606.9 148.3,611.9V618.9Q148.3,623.9 153.3,623.9H168.3M126.7,568.9H112.7Q106.7,568.9 106.7,574.9V609.4Q106.7,615.4 112.7,615.4H148.3M185,640.7H172.3Q168.3,640.7 168.3,644.7V648Q168.3,652 172.3,652H185M185,663.3H172.3Q168.3,663.3 168.3,667.3V670.5Q168.3,674.5 172.3,674.5H185M168.3,668.9H153.3Q148.3,668.9 148.3,673.9V680.8Q148.3,685.8 153.3,685.8H185M168.3,646.4H132.7Q126.7,646.4 126.7,652.4V671.4Q126.7,677.4 132.7,677.4H148.3M126.7,661.9H112.7Q106.7,661.9 106.7,667.9V691.1Q106.7,697.1 112.7,697.1H185M106.7,592.2H92Q85,592.2 85,599.2V672.5Q85,679.5 92,679.5H106.7M185,539.3H71.3Q63.3,539.3 63.3,547.3V627.8Q63.3,635.8 71.3,635.8H85M63.3,587.6H51.3Q43.3,587.6 43.3,595.6V700.3Q43.3,708.3 51.3,708.3H185M20,647.9H43.3"/>
<text class="bs" x="161.7" y="553.2">95</text><text class="bs" x="140" y="571">55</text><text class="bs" x="161.7" y="590">60</text><text class="bs" x="140" y="613.2">51</text><text class="bs" x="161.7" y="621.7">97</text><text class="bs" x="120" y="660">68</text><text class="bs" x="161.7" y="667.7">90</text>
</g>
<g id="c-tree-by">
<path class="tr" d="M425,550.6H444.3Q448.3,550.6 448.3,554.6V557.8Q448.3,561.8 444.3,561.8H425M425,584.4H444.3Q448.3,584.4 448.3,588.4V591.7Q448.3,595.7 444.3,595.7H425M425,573.1H463.3Q468.3,573.1 468.3,578.1V585.1Q468.3,590.1 463.3,590.1H448.3M448.3,556.2H484Q490,556.2 490,562.2V575.6Q490,581.6 484,581.6H468.3M425,618.2H444.3Q448.3,618.2 448.3,622.2V625.5Q448.3,629.5 444.3,629.5H425M425,606.9H463.3Q468.3,606.9 468.3,611.9V618.9Q468.3,623.9 463.3,623.9H448.3M490,568.9H505.7Q511.7,568.9 511.7,574.9V609.4Q511.7,615.4 505.7,615.4H468.3M425,539.3H518Q525,539.3 525,546.3V633.7Q525,640.7 518,640.7H425M511.7,592.2H518Q525,592.2 525,585.2M425,652H442.7Q446.7,652 446.7,656V659.3Q446.7,663.3 442.7,663.3H425M425,674.5H444.3Q448.3,674.5 448.3,678.5V681.8Q448.3,685.8 444.3,685.8H425M448.3,680.2H463.3Q468.3,680.2 468.3,685.2V692.1Q468.3,697.1 463.3,697.1H425M446.7,657.7H477.3Q483.3,657.7 483.3,663.7V682.6Q483.3,688.6 477.3,688.6H468.3M525,565H538.7Q546.7,565 546.7,573V665.1Q546.7,673.1 538.7,673.1H483.3M546.7,619.1H560.3Q568.3,619.1 568.3,627.1V700.3Q568.3,708.3 560.3,708.3H425M568.3,663.7H588.3"/>
<text class="bs" x="456" y="554.2">100</text><text class="bs" x="455" y="588.2">74</text><text class="bs" x="476.7" y="579">100</text><text class="bs" x="496.7" y="567.2">96</text><text class="bs" x="453.3" y="622.2">100</text><text class="bs" x="475" y="613.2">54</text><text class="bs" x="516.7" y="586">75</text><text class="bs" x="530" y="561.7">88</text><text class="bs" x="455" y="679.8">59</text><text class="bs" x="474" y="687.5">50</text><text class="bs" x="491.7" y="669.8">55</text>
</g>
<g id="c-links">
<path class="ds" d="M276,550.6H332M276,561.8H332M276,573.1H332M276,584.4H332M276,595.7H332M276,606.9H332M276,618.2H332M276,629.5H332M276,640.7L332,652M276,652L332,663.3M276,663.3L332,674.5M276,674.5L332,685.8M276,685.8L332,697.1"/>
<path class="sl" stroke="#ef9a4a" d="M275.5,539.3H332"/>
<path class="sl" stroke="#f2c55c" d="M275.5,697.1L332,640.7"/>
</g>

<g id="d-tree-ml">
<path class="tr" d="M798.3,540.3H785.7Q781.7,540.3 781.7,544.3V548.3Q781.7,552.3 785.7,552.3H798.3M798.3,588.3H785.7Q781.7,588.3 781.7,592.3V596.3Q781.7,600.3 785.7,600.3H798.3M798.3,612.3H785.7Q781.7,612.3 781.7,616.3V620.3Q781.7,624.3 785.7,624.3H798.3M781.7,618.3H770Q765,618.3 765,623.3V631.3Q765,636.3 770,636.3H798.3M798.3,648.3H785.7Q781.7,648.3 781.7,652.3V656.3Q781.7,660.3 785.7,660.3H798.3M798.3,672.3H785.7Q781.7,672.3 781.7,676.3V680.3Q781.7,684.3 785.7,684.3H798.3M781.7,654.3H770Q765,654.3 765,659.3V673.3Q765,678.3 770,678.3H781.7M765,627.3H756Q750,627.3 750,633.3V660.3Q750,666.3 756,666.3H765M781.7,594.3H736Q730,594.3 730,600.3V640.8Q730,646.8 736,646.8H750M798.3,576.3H729.3Q723.3,576.3 723.3,582.3V614.6Q723.3,620.6 729.3,620.6H730M798.3,564.3H719.3Q713.3,564.3 713.3,570.3V592.4Q713.3,598.4 719.3,598.4H723.3M798.3,696.3H785.7Q781.7,696.3 781.7,700.3V704.3Q781.7,708.3 785.7,708.3H798.3M713.3,581.4H706.3Q698.3,581.4 698.3,589.4V694.3Q698.3,702.3 706.3,702.3H781.7M781.7,546.3H689.7Q681.7,546.3 681.7,554.3V633.8Q681.7,641.8 689.7,641.8H698.3M798.3,528.3H676Q668,528.3 668,536.3V586.1Q668,594.1 676,594.1H681.7M668,561.2H663.5V714.3Q663.5,720.3 669.5,720.3H798.3"/>
<text class="bs" x="775" y="541.7">61</text><text class="bs" x="776" y="613.8">96</text><text class="bs" x="760" y="622.7">82</text><text class="bs" x="776.7" y="674">54</text>
</g>
<g id="d-tree-by">
<path class="tr" d="M1036,540.3H1047.7Q1051.7,540.3 1051.7,544.3V548.3Q1051.7,552.3 1047.7,552.3H1036M1036,528.3H1068.3Q1073.3,528.3 1073.3,533.3V541.3Q1073.3,546.3 1068.3,546.3H1051.7M1036,588.3H1047.7Q1051.7,588.3 1051.7,592.3V596.3Q1051.7,600.3 1047.7,600.3H1036M1036,612.3H1047.7Q1051.7,612.3 1051.7,616.3V620.3Q1051.7,624.3 1047.7,624.3H1036M1051.7,618.3H1063.3Q1068.3,618.3 1068.3,623.3V631.3Q1068.3,636.3 1063.3,636.3H1036M1036,672.3H1047.7Q1051.7,672.3 1051.7,676.3V680.3Q1051.7,684.3 1047.7,684.3H1036M1036,660.3H1063.3Q1068.3,660.3 1068.3,665.3V673.3Q1068.3,678.3 1063.3,678.3H1051.7M1036,648.3H1078.3Q1083.3,648.3 1083.3,653.3V664.3Q1083.3,669.3 1078.3,669.3H1068.3M1068.3,627.3H1094Q1100,627.3 1100,633.3V652.8Q1100,658.8 1094,658.8H1083.3M1036,696.3H1047.7Q1051.7,696.3 1051.7,700.3V704.3Q1051.7,708.3 1047.7,708.3H1036M1073.3,537.3H1157Q1165,537.3 1165,545.3V694.3Q1165,702.3 1157,702.3H1051.7M1036,564.3H1157Q1165,564.3 1165,572.3M1036,576.3H1157Q1165,576.3 1165,584.3M1051.7,594.3H1157Q1165,594.3 1165,602.3M1100,643.1H1157Q1165,643.1 1165,635.1M1165,602.9H1172Q1180,602.9 1180,610.9V712.3Q1180,720.3 1172,720.3H1036M1180,661.6H1198.3"/>
<text class="bs" x="1059.3" y="542.5">61</text><text class="bs" x="1081.7" y="534.2">57</text><text class="bs" x="1060" y="591.5">75</text><text class="bs" x="1060" y="616.7">100</text><text class="bs" x="1081.7" y="625.5">97</text><text class="bs" x="1060" y="675">96</text><text class="bs" x="1076.7" y="666">98</text><text class="bs" x="1091.7" y="658.2">62</text><text class="bs" x="1108.3" y="641">67</text><text class="bs" x="1060" y="697.7">53</text>
</g>
<g id="d-links">
<path class="ds" d="M884,528.3H941.5M884,540.3H941.5M884,552.3H941.5M884,564.3H941.5M884,576.3H941.5M884,588.3H941.5M884,600.3H941.5M884,612.3H941.5M884,624.3H941.5M884,636.3H941.5M884,672.3H941.5M884,684.3H941.5M884,696.3H941.5M884,708.3H941.5"/>
<path class="sl" stroke="#a8dde2" d="M884,648.3L941.5,660.3"/>
<path class="sl" stroke="#f5c594" d="M884,660.3L941.5,648.3"/>
</g>
</g>
</svg>
